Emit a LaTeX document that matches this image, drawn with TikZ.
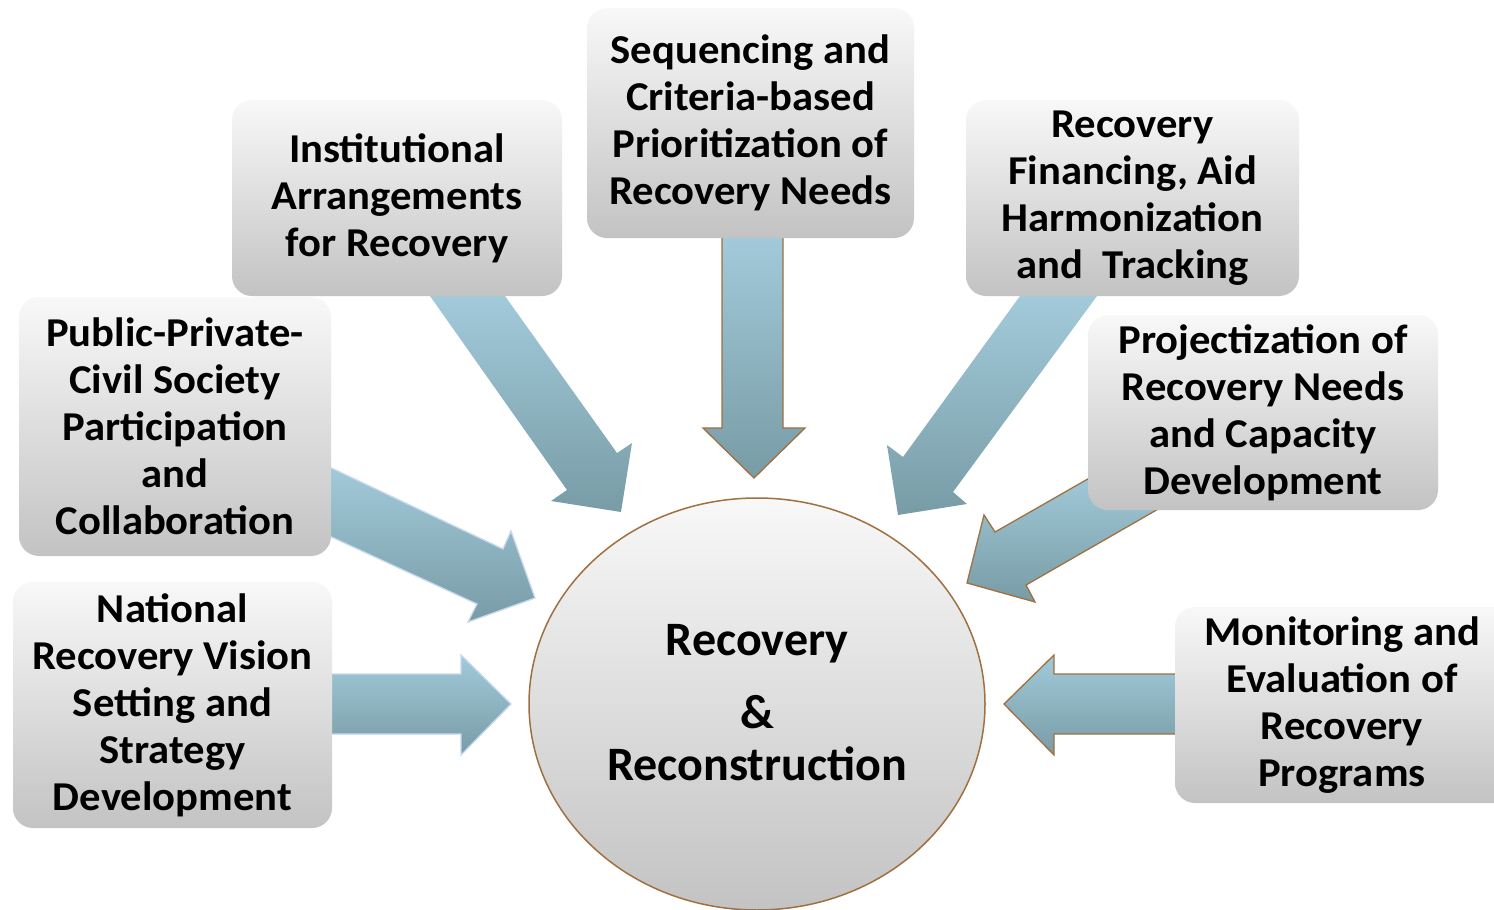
\documentclass[tikz,border=0pt]{standalone}
\usepackage{fontspec}
\setmainfont{Carlito}
\newfontfamily\boxfont{Carlito}[FakeStretch=1.04]
\usetikzlibrary{shapes.geometric}
\definecolor{boxtop}{RGB}{248,248,248}
\definecolor{boxbot}{RGB}{195,195,195}
\definecolor{arrtop}{RGB}{162,202,218}
\definecolor{arrbot}{RGB}{120,156,166}
\definecolor{brownline}{RGB}{160,112,64}
\definecolor{paleblue}{RGB}{200,216,240}
\begin{document}
\begin{tikzpicture}[x=1pt,y=-1pt,
  box/.style={rectangle, rounded corners=20pt, top color=boxtop, bottom color=boxbot, draw=none,
    font=\boxfont\fontsize{41}{47}\selectfont\bfseries, align=center, inner sep=0pt},
  boxtext/.style={font=\boxfont\fontsize{41}{47}\selectfont\bfseries, align=center, inner sep=0pt},
  arr/.style={top color=arrtop, bottom color=arrbot},
  brownedge/.style={draw=brownline, line width=1.3pt, line join=miter},
  paleedge/.style={draw=paleblue, line width=1.3pt, line join=miter},
  big/.style={font=\fontsize{48}{52}\selectfont\bfseries, inner sep=0pt, anchor=base}]
\useasboundingbox (0,0) rectangle (1494,910);
\fill[white] (0,0) rectangle (1494,910);

% arrows (behind boxes)
\shade[arr] (430,296) -- (567,490) -- (551,501) -- (621,512) -- (632,443) -- (617,453) -- (505,296) -- cycle;
\shade[arr, brownedge] (722,236) -- (722,428) -- (703,428) -- (754,478) -- (805,428) -- (783,428) -- (783,236);
\shade[arr] (1020,296) -- (903,457) -- (887,445) -- (898,515) -- (967,504) -- (953,492) -- (1097,296) -- cycle;
\shade[arr, brownedge] (1100,472) -- (995,532) -- (984,515) -- (967,583) -- (1035,602) -- (1026,585) -- (1160,508) -- cycle;
\shade[arr, paleedge] (325,465) -- (503,549) -- (511,531) -- (535,598) -- (468,622) -- (477,604) -- (325,534) -- cycle;
\shade[arr, paleedge] (328,674) -- (461,674) -- (461,655) -- (511,704) -- (461,755) -- (461,734) -- (328,734) -- cycle;
\shade[arr, brownedge] (1178,674) -- (1054,674) -- (1054,655) -- (1004,704) -- (1054,755) -- (1054,734) -- (1178,734) -- cycle;

% boxes
\node[box, minimum width=330pt, minimum height=196pt] (inst) at (397,198)
  {Institutional\\Arrangements\\for Recovery};
\node[box, minimum width=327pt, minimum height=230pt] (seq) at (750.5,123)
  {Sequencing and\\Criteria-based\\Prioritization of\\Recovery Needs};
\node[box, minimum width=333pt, minimum height=196pt] (fin) at (1132.5,198)
  {Recovery\\Financing, Aid\\Harmonization\\and~~Tracking};
\node[box, minimum width=350pt, minimum height=195pt] (proj) at (1263,412.5)
  {Projectization of\\Recovery Needs\\and Capacity\\Development};
\node[box, minimum width=345pt, minimum height=196pt] (mon) at (1347.5,705) {};
\node[boxtext] (montext) at (1342,705)
  {Monitoring and\\Evaluation of\\Recovery\\Programs};
\node[box, minimum width=312pt, minimum height=259pt] (ppp) at (175,426.5)
  {Public-Private-\\Civil Society\\Participation\\and\\Collaboration};
\node[box, minimum width=319pt, minimum height=246pt] (nat) at (172.5,705)
  {National\\Recovery Vision\\Setting and\\Strategy\\Development};

% centre
\node[ellipse, minimum width=456pt, minimum height=412pt, top color=boxtop, bottom color=boxbot,
  draw=brownline, line width=1.5pt] (core) at (757,704) {};
\node[big] (t1) at (757,655) {Recovery};
\node[big] (t2) at (757,728) {\&};
\node[big] (t3) at (757,780) {Reconstruction};
\end{tikzpicture}
\end{document}
